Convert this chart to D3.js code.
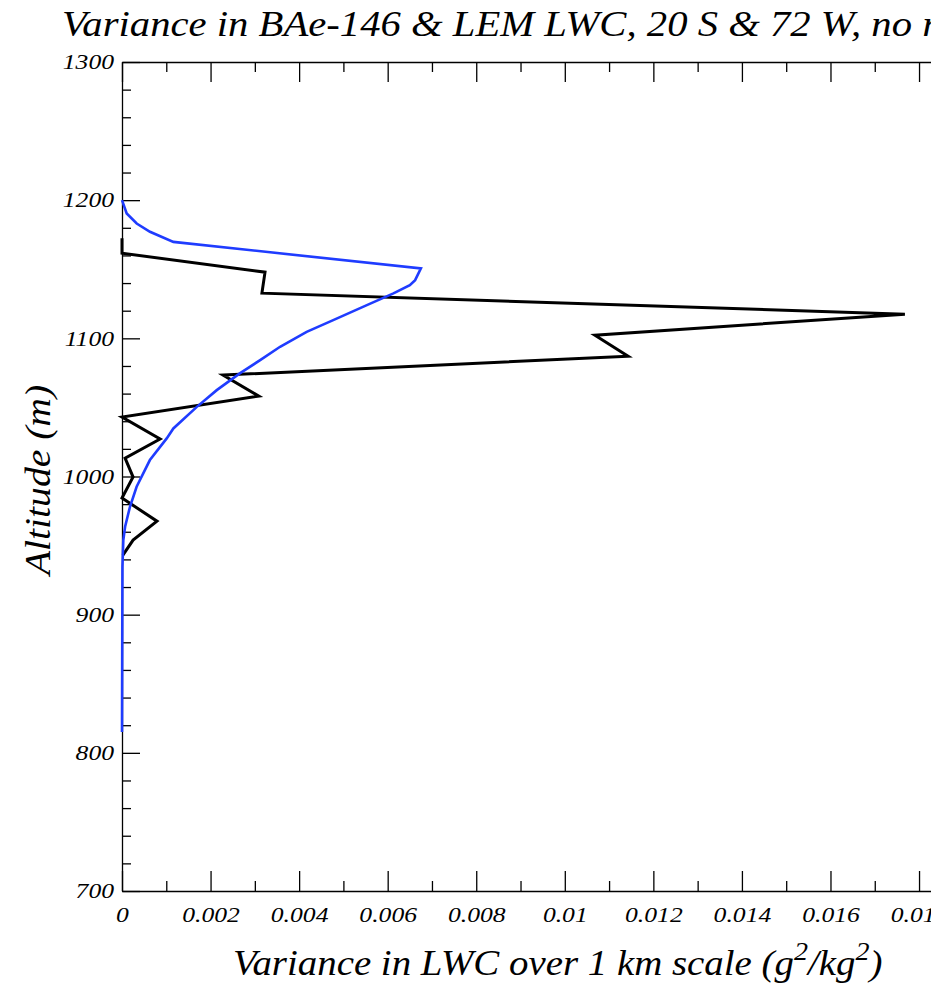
<!DOCTYPE html>
<html>
<head>
<meta charset="utf-8">
<script src="https://cdn.jsdelivr.net/npm/d3@7"></script>
<style>
  body { margin: 0; background: #fff; overflow: hidden; }
  svg { display: block; }
  text { font-family: "Liberation Serif", "DejaVu Serif", serif; font-style: italic; fill: #000; }
</style>
</head>
<body>
<div id="chart"></div>
<script>
// chart text
const titleText = "Variance in BAe-146 & LEM LWC, 20 S & 72 W, no radiation";
const xTitle = "Variance in LWC over 1 km scale (g";
const yTitle = "Altitude (m)";

// ticks
const xMajor = [0, 0.002, 0.004, 0.006, 0.008, 0.01, 0.012, 0.014, 0.016, 0.018, 0.02];
const xMinor = [0.001, 0.003, 0.005, 0.007, 0.009, 0.011, 0.013, 0.015, 0.017, 0.019];
const yMajor = [700, 800, 900, 1000, 1100, 1200, 1300];
const yMinor = [720, 740, 760, 780, 820, 840, 860, 880, 920, 940, 960, 980,
                1020, 1040, 1060, 1080, 1120, 1140, 1160, 1180, 1220, 1240, 1260, 1280];

// BAe-146 observed variance (black)
const baeAlt = [1172.5, 1161.6, 1147.9, 1132.7, 1117.5, 1102.3, 1087.1, 1073.4, 1058.2,
                1043, 1027.1, 1013.3, 999.6, 984.4, 967.7, 954, 943.1];
const baeVar = [0, 0, 0.00323, 0.00316, 0.01768, 0.01068, 0.01143, 0.00228, 0.00309,
                0, 0.00086, 0.00007, 0.00025, 0, 0.00079, 0.00025, 0.00002];

// LEM modelled variance (blue)
const lemAlt = [1200, 1190.4, 1183.1, 1177.1, 1169.8, 1150.6, 1142.1, 1138.5, 1132.5, 1124,
                1113.2, 1104.7, 1093.9, 1084.2, 1074.6, 1062.5, 1050.4, 1034.8, 1027.6,
                1011.9, 992.6, 978.1, 963.6, 954, 934.7, 815];
const lemVar = [0, 0.000106, 0.000332, 0.000632, 0.00116, 0.00675, 0.00662, 0.0065, 0.00613, 0.00553,
                0.00477, 0.00417, 0.00357, 0.00312, 0.00266, 0.00214, 0.00169, 0.00116, 0.00101,
                0.00063, 0.00033, 0.00018, 0.00007, 0.00003, 0.00001, 0];

const width = 931, height = 985;
const margin = {top: 62, left: 122, bottom: 94};
const plotRight = 1007.6;

const svg = d3.select("#chart")
    .append("svg")
    .attr("width", width)
    .attr("height", height);

const x = d3.scaleLinear().domain([0, 0.02]).range([margin.left, plotRight]);
const y = d3.scaleLinear().domain([700, 1300]).range([height - margin.bottom, margin.top]);

const tickFont = "21px";

// widen the glyphs a bit, the original font is broader than Liberation Serif
function stretch(sel, k) {
    sel.each(function() {
        const len = this.getComputedTextLength();
        d3.select(this).attr("textLength", len * k).attr("lengthAdjust", "spacingAndGlyphs");
    });
}

// bottom axis, ticks pointing inward
const xAxis = svg.append("g")
    .attr("transform", `translate(0,${y(700)})`)
    .call(d3.axisBottom(x).tickValues(xMajor).tickFormat(d => String(d))
        .tickSizeInner(-20).tickSizeOuter(0).tickPadding(16));
xAxis.selectAll("text").style("font-size", tickFont).attr("dy", "0.71em");
svg.append("g")
    .attr("transform", `translate(0,${y(700)})`)
    .call(d3.axisBottom(x).tickValues(xMinor).tickFormat("").tickSizeInner(-10).tickSizeOuter(0))
    .select(".domain").remove();

// top axis (mirror)
svg.append("g")
    .attr("transform", `translate(0,${y(1300)})`)
    .call(d3.axisTop(x).tickValues(xMajor).tickFormat("").tickSizeInner(-20).tickSizeOuter(0));
svg.append("g")
    .attr("transform", `translate(0,${y(1300)})`)
    .call(d3.axisTop(x).tickValues(xMinor).tickFormat("").tickSizeInner(-10).tickSizeOuter(0))
    .select(".domain").remove();

// left axis
const yAxis = svg.append("g")
    .attr("transform", `translate(${x(0)},0)`)
    .call(d3.axisLeft(y).tickValues(yMajor).tickFormat(d => String(d))
        .tickSizeInner(-18).tickSizeOuter(0).tickPadding(8));
yAxis.selectAll("text").style("font-size", tickFont);

stretch(xAxis.selectAll("text"), 1.22);
stretch(yAxis.selectAll("text"), 1.22);

svg.append("g")
    .attr("transform", `translate(${x(0)},0)`)
    .call(d3.axisLeft(y).tickValues(yMinor).tickFormat("").tickSizeInner(-9).tickSizeOuter(0))
    .select(".domain").remove();

svg.selectAll(".domain, .tick line").attr("stroke", "#000").attr("stroke-width", 1.3);

// data lines
const line = d3.line().x(d => x(d[0])).y(d => y(d[1]));

svg.append("path")
    .datum(baeVar.map((v, i) => [v, baeAlt[i]]))
    .attr("d", line)
    .attr("fill", "none")
    .attr("stroke", "#000")
    .attr("stroke-width", 3);

svg.append("path")
    .datum(lemVar.map((v, i) => [v, lemAlt[i]]))
    .attr("d", line)
    .attr("fill", "none")
    .attr("stroke", "#1f3cff")
    .attr("stroke-width", 2.6);

// titles
svg.append("text")
    .attr("transform", "translate(62,36) scale(1.13,1)")
    .style("font-size", "36px")
    .text(titleText);

const xt = svg.append("text")
    .attr("transform", "translate(233,975) scale(1.08,1)")
    .style("font-size", "36px");
xt.append("tspan").text(xTitle);
xt.append("tspan").attr("dy", -15).style("font-size", "26px").text("2");
xt.append("tspan").attr("dy", 15).text("/kg");
xt.append("tspan").attr("dy", -15).style("font-size", "26px").text("2");
xt.append("tspan").attr("dy", 15).text(")");

svg.append("text")
    .attr("transform", "translate(50,480) rotate(-90) scale(1.1,1)")
    .attr("text-anchor", "middle")
    .style("font-size", "36px")
    .text(yTitle);
</script>
</body>
</html>
